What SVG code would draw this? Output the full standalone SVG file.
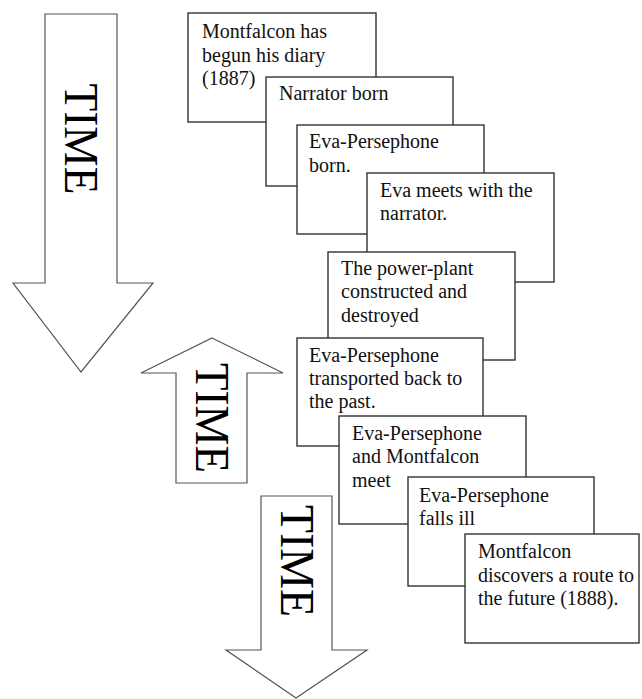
<svg xmlns="http://www.w3.org/2000/svg" width="642" height="699" viewBox="0 0 642 699">
<style>
.arrow{fill:#fff;stroke:#555;stroke-width:1.2}
.box{fill:#fff;stroke:#333;stroke-width:1.4}
.lbl{font-family:'Liberation Serif','DejaVu Serif',serif;font-size:20px;fill:#111}
.time{font-family:'Liberation Serif','DejaVu Serif',serif;font-size:49px;fill:#000;text-anchor:middle}
</style>
<rect width="642" height="699" fill="#fff"/>
<g id="arrows">
<g id="arrow1">
<polygon class="arrow" points="45,14 117,14 117,283 153,283 81,372 13,283 45,283"/>
<text class="time" transform="translate(65,139) rotate(90)" textLength="111" lengthAdjust="spacingAndGlyphs">TIME</text>
</g>
<g id="arrow2">
<polygon class="arrow" points="212,338 283,373 247,373 247,483 176,483 176,373 141,373"/>
<text class="time" transform="translate(196,418) rotate(90)" textLength="110" lengthAdjust="spacingAndGlyphs">TIME</text>
</g>
<g id="arrow3">
<polygon class="arrow" points="261,496 332,496 332,650 367,650 296,698 226,650 261,650"/>
<text class="time" transform="translate(281,561) rotate(90)" textLength="112" lengthAdjust="spacingAndGlyphs">TIME</text>
</g>
</g>
<g class="lbl" font-family="Liberation Serif, serif">
<g id="box1"><rect class="box" x="188" y="13" width="188" height="109"/>
<text x="202" y="38">Montfalcon has</text><text x="202" y="62">begun his diary</text><text x="202" y="85">(1887)</text></g>
<g id="box2"><rect class="box" x="266" y="77" width="187" height="109"/>
<text x="279" y="100">Narrator born</text></g>
<g id="box3"><rect class="box" x="297" y="125" width="187" height="109"/>
<text x="309" y="148">Eva-Persephone</text><text x="309" y="172">born.</text></g>
<g id="box4"><rect class="box" x="367" y="173" width="187" height="109"/>
<text x="380" y="197">Eva meets with the</text><text x="380" y="220">narrator.</text></g>
<g id="box5"><rect class="box" x="328" y="252" width="187" height="108"/>
<text x="341" y="275">The power-plant</text><text x="341" y="298">constructed and</text><text x="341" y="322">destroyed</text></g>
<g id="box6"><rect class="box" x="297" y="338" width="186" height="108"/>
<text x="309" y="362">Eva-Persephone</text><text x="309" y="385">transported back to</text><text x="309" y="408">the past.</text></g>
<g id="box7"><rect class="box" x="339" y="416" width="187" height="108"/>
<text x="352" y="440">Eva-Persephone</text><text x="352" y="463">and Montfalcon</text><text x="352" y="487">meet</text></g>
<g id="box8"><rect class="box" x="408" y="477" width="186" height="109"/>
<text x="419" y="502">Eva-Persephone</text><text x="419" y="525">falls ill</text></g>
<g id="box9"><rect class="box" x="465" y="534" width="174" height="109"/>
<text x="478" y="558">Montfalcon</text><text x="478" y="582">discovers a route to</text><text x="478" y="605">the future (1888).</text></g>
</g>
</svg>
